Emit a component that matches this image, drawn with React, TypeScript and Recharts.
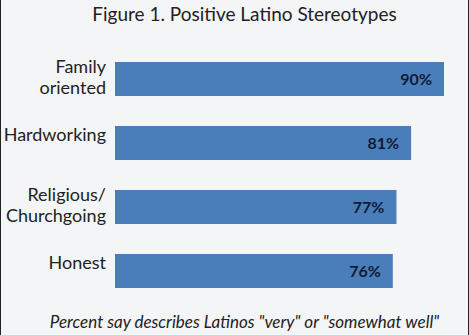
import { Bar, BarChart, LabelList, XAxis, YAxis } from "recharts";

const categories = ["Family\noriented", "Hardworking", "Religious/\nChurchgoing", "Honest"];
const values = [90, 81, 77, 76];

const data = categories.map((name, i) => ({ name, value: values[i] }));

const font = "Lato, 'Open Sans', sans-serif";

const CategoryTick = (props: any) => {
  const { x, y, payload } = props;
  const lines: string[] = String(payload.value).split("\n");
  const first = lines.length > 1 ? -6 : -2;
  return (
    <g>
      {lines.map((line, i) => (
        <text
          key={i}
          x={x - 1}
          y={y + first + i * 21}
          textAnchor="end"
          fill="#222"
          fontSize={18}
          fontFamily={font}
        >
          {line}
        </text>
      ))}
    </g>
  );
};

const App = () => {
  return (
    <div
      style={{
        position: "absolute",
        left: 0,
        top: 0,
        width: 469,
        height: 335,
        background: "#f4f5f6",
        borderLeft: "1px solid #222",
        borderRight: "1px solid #222",
        boxSizing: "border-box",
        fontFamily: font,
      }}
    >
      {/* TITLE */}
      <div
        style={{
          position: "absolute",
          top: 2,
          left: 0,
          width: 487,
          textAlign: "center",
          fontSize: 19,
          color: "#222",
        }}
      >
        Figure 1. Positive Latino Stereotypes
      </div>
      <BarChart
        width={467}
        height={335}
        data={data}
        layout="vertical"
        margin={{ top: 47, right: 24, bottom: 32, left: 0 }}
        barCategoryGap={15}
      >
        <XAxis type="number" domain={[0, 90]} hide />
        <YAxis
          type="category"
          dataKey="name"
          width={114}
          axisLine={false}
          tickLine={false}
          tick={<CategoryTick />}
          interval={0}
        />
        <Bar dataKey="value" fill="#4a7ebb" barSize={34} isAnimationActive={false}>
          <LabelList
            dataKey="value"
            position="insideRight"
            offset={12}
            formatter={(v: any) => `${v}%`}
            fill="#0f1b33"
            fontSize={16}
            fontWeight="bold"
            fontFamily={font}
          />
        </Bar>
      </BarChart>
      {/* FOOTNOTE */}
      <div
        style={{
          position: "absolute",
          top: 311,
          left: 0,
          width: 487,
          textAlign: "center",
          fontSize: 17,
          fontStyle: "italic",
          color: "#222",
        }}
      >
        Percent say describes Latinos "very" or "somewhat well"
      </div>
    </div>
  );
};

export default App;
